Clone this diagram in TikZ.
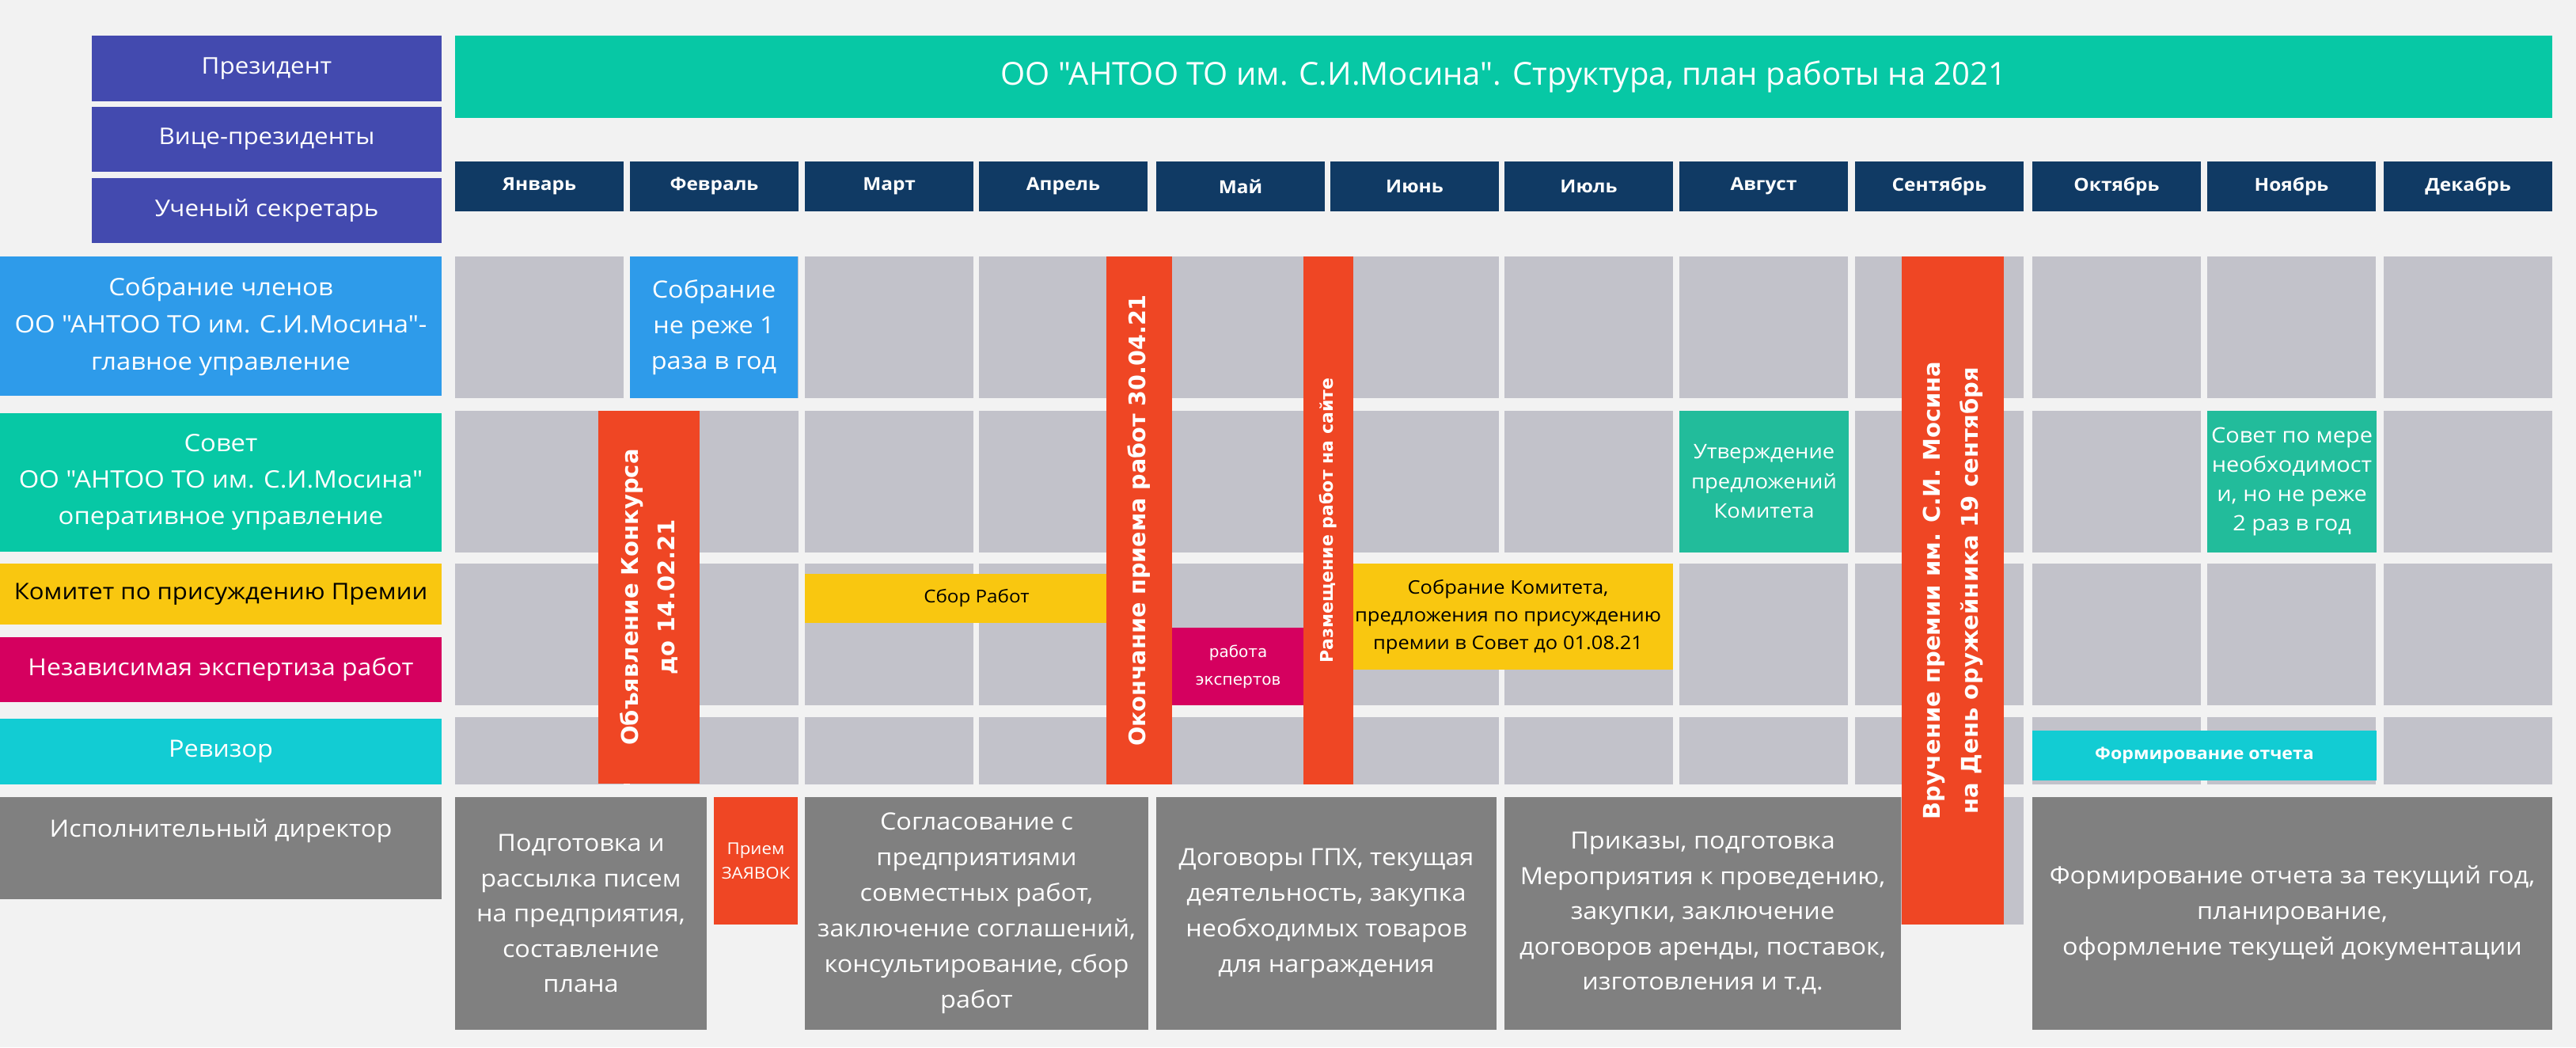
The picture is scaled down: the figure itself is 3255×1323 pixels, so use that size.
\documentclass[tikz,border=0pt]{standalone}
\usepackage{fontspec}
\setmainfont{Open Sans}[Ligatures=TeXOff,FakeStretch=1.08]
\newfontfamily\titlefont{Open Sans}[Ligatures=TeXOff]
\newfontfamily\dejavu{DejaVu Sans}
\definecolor{bg}{HTML}{F2F2F2}
\definecolor{purp}{HTML}{434AAF}
\definecolor{titlegreen}{HTML}{07C8A5}
\definecolor{navy}{HTML}{103A64}
\definecolor{sobrblue}{HTML}{2E9BEA}
\definecolor{teal2}{HTML}{22BC9B}
\definecolor{ylw}{HTML}{F9C710}
\definecolor{mag}{HTML}{D5005F}
\definecolor{cyn}{HTML}{12CCD3}
\definecolor{dgray}{HTML}{808080}
\definecolor{redb}{HTML}{EF4624}
\definecolor{cellgray}{HTML}{C2C2CA}
\newcommand\fs[2]{\fontsize{#1}{#2}\selectfont}
\newcommand\mkbox[7]{\node[blk,#6,minimum width={((#4)-(#2))*0.5pt},minimum height={((#5)-(#3))*0.5pt}] (#1) at ({((#2)+(#4))/2},{((#3)+(#5))/2}) {#7};}
\newcommand\mkbar[7]{\node[blk,rotate=90,#6,minimum width={((#5)-(#3))*0.5pt},minimum height={((#4)-(#2))*0.5pt}] (#1) at ({((#2)+(#4))/2},{((#3)+(#5))/2}) {#7};}
\begin{document}
\begin{tikzpicture}[x=0.5pt,y=-0.5pt,
  blk/.style={inner sep=0pt,outer sep=0pt,align=center,text=white,draw=none},
  cellg/.style={fill=cellgray},
  head/.style={fill=purp,font=\fs{14.5}{18}},
  month/.style={fill=navy,font=\bfseries\fs{11.3}{14}},
  lbl/.style={font=\fs{15.2}{23.5}},
  big/.style={fill=dgray,font=\fs{15}{22.5}},
  redbar/.style={fill=redb,font=\dejavu\bfseries\fs{14.5}{23}}]
\useasboundingbox (0,0) rectangle (3255,1323);
\fill[bg] (0,0) rectangle (3255,1323);
% grid cells
\foreach \xl [count=\i] in {575,796,1017,1237,1461,1681,1901,2122,2344,2568,2789,3012} {
  \foreach \yt/\yb/\r in {324/503/a,519/698/b,712/891/c,906/991/d} {
    \mkbox{c\r\i}{\xl}{\yt}{\xl+213}{\yb}{cellg}{}
  }
}
% months
\foreach \xl/\m [count=\i] in {575/Январь,796/Февраль,1017/Март,1237/Апрель,1461/Май,1681/Июнь,1901/Июль,2122/Август,2344/Сентябрь,2568/Октябрь,2789/Ноябрь,3012/Декабрь} {
  \mkbox{m\i}{\xl}{204}{\xl+213}{267}{month}{\m}
}
% title and heads
\mkbox{title}{575}{45}{3225}{149}{fill=titlegreen,font=\titlefont\fs{20}{24}}{ОО "АНТОО ТО им. С.И.Мосина". Структура, план работы на 2021}
\mkbox{pres}{116}{45}{558}{128}{head}{Президент}
\mkbox{vice}{116}{135}{558}{217}{head}{Вице-президенты}
\mkbox{sec}{116}{225}{558}{307}{head}{Ученый секретарь}
% row labels
\mkbox{sobr}{0}{324}{558}{500}{fill=sobrblue,lbl}{Собрание членов\\ОО "АНТОО ТО им. С.И.Мосина"-\\главное управление}
\mkbox{sovet}{0}{522}{558}{697}{fill=titlegreen,lbl,font=\fs{15.2}{23}}{Совет\\ОО "АНТОО ТО им. С.И.Мосина"\\оперативное управление}
\mkbox{kom}{0}{712}{558}{789}{fill=ylw,text=black,font=\fs{14.4}{17}}{Комитет по присуждению Премии}
\mkbox{exper}{0}{805}{558}{887}{fill=mag,font=\fs{14.8}{17}}{Независимая экспертиза работ}
\mkbox{rev}{0}{908}{558}{991}{fill=cyn,font=\fs{15}{18}}{Ревизор}
\mkbox{dir}{0}{1007}{558}{1136}{fill=dgray}{}
\node[blk,font=\fs{15}{18}] (dirtext) at (279,1050) {Исполнительный директор};
% grid overlays
\mkbox{febsobr}{796}{324}{1008}{503}{fill=sobrblue,font=\fs{15}{22.5}}{Собрание\\не реже 1\\раза в год}
\mkbox{utv}{2122}{519}{2336}{698}{fill=teal2,font=\fs{12.7}{18.75}}{Утверждение\\предложений\\Комитета}
\mkbox{sovm}{2789}{519}{3003}{698}{fill=teal2,font=\fs{13.4}{18.5}}{Совет по мере\\необходимост\\и, но не реже\\2 раз в год}
\mkbox{sbor}{1017}{725}{1451}{787}{fill=ylw,text=black,font=\fs{11.2}{15}}{Сбор Работ}
\mkbox{sobk}{1697}{712}{2114}{846}{fill=ylw,text=black,font=\fs{11.8}{17.5}}{Собрание Комитета,\\предложения по присуждению\\премии в Совет до 01.08.21}
\mkbox{rabexp}{1481}{793}{1648}{891}{fill=mag,font=\dejavu\fs{10}{17.5}}{работа\\экспертов}
\mkbox{formo}{2568}{923}{3003}{986}{fill=cyn,font=\bfseries\fs{10.7}{14}}{Формирование отчета}
% bottom row
\mkbox{sepg}{2344}{1007}{2557}{1168}{cellg}{}
\mkbox{podg}{575}{1007}{893}{1301}{big,font=\fs{15}{22.25}}{Подготовка и\\рассылка писем\\на предприятия,\\составление\\плана}
\mkbox{priem}{902}{1007}{1008}{1168}{fill=redb,font=\fs{10.3}{15.5}}{Прием\\ЗАЯВОК}
\mkbox{sogl}{1017}{1007}{1451}{1301}{big}{Согласование с\\предприятиями\\совместных работ,\\заключение соглашений,\\консультирование, сбор\\работ}
\mkbox{dogv}{1461}{1007}{1891}{1301}{big}{Договоры ГПХ, текущая\\деятельность, закупка\\необходимых товаров\\для награждения}
\mkbox{prik}{1901}{1007}{2402}{1301}{big,font=\fs{15}{22.25}}{Приказы, подготовка\\Мероприятия к проведению,\\закупки, заключение\\договоров аренды, поставок,\\изготовления и т.д.}
\mkbox{fgod}{2568}{1007}{3225}{1301}{big}{Формирование отчета за текущий год,\\планирование,\\оформление текущей документации}
% red bars
\mkbar{bar1}{756}{519}{884}{990}{redbar}{Объявление Конкурса\\до 14.02.21}
\mkbar{bar2}{1398}{324}{1481}{991}{redbar,font=\dejavu\bfseries\fs{14.3}{17}}{Окончание приема работ 30.04.21}
\mkbar{bar3}{1647}{324}{1710}{991}{redbar,font=\dejavu\bfseries\fs{11}{13}}{Размещение работ на сайте}
\mkbar{bar4}{2403}{324}{2532}{1168}{redbar,font=\dejavu\bfseries\fs{14.5}{24}}{Вручение премии им. С.И. Мосина\\на День оружейника 19 сентября}
\end{tikzpicture}
\end{document}
